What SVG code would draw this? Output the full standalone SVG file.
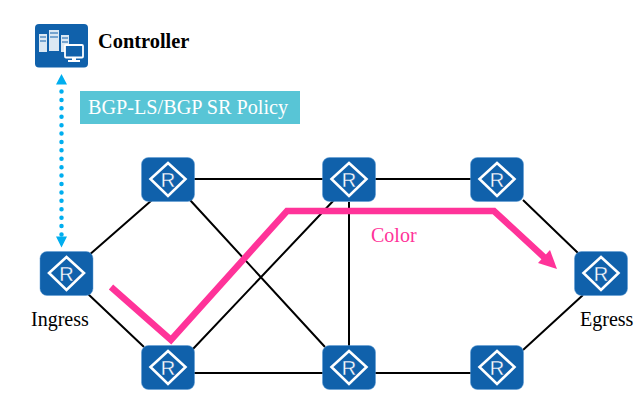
<svg xmlns="http://www.w3.org/2000/svg" width="641" height="400" viewBox="0 0 641 400">
<style>
.bg{fill:#1061ab;stroke:#5b9bd5;stroke-width:.5}
.dm{fill:none;stroke:#fff;stroke-width:2.6}
.r{font:20px "Liberation Sans",Arial,sans-serif;fill:#fff;stroke:#1061ab;stroke-width:.3;text-anchor:middle}
.t{font-family:"Liberation Serif","Times New Roman",serif;fill:#000}
.l{stroke:#000;stroke-width:2;fill:none}
</style>
<defs>
<g id="router">
<rect class="bg" x="-26.500" y="-22" width="53" height="44" rx="7"/>
<path class="dm" d="M0-16.500 17.500-0.500 0 16.500-17.500-0.500Z"/>
<text class="r" x="0" y="7">R</text>
</g>
</defs>
<g id="connectors">
<path class="l" d="M88 256 152 200M87 293 144 347M190 200 325 347M194 179H323M375 179H471M523 200 578 253M192 350 335 199M349 202V346M194 373H323M375 373H471M523 350 583 295"/>
<path d="M61.500 91.500V235" fill="none" stroke="#00aeef" stroke-width="4.500" stroke-linecap="round" stroke-dasharray="0 8.410"/>
<path d="M61.500 74 67 84.500H56ZM61.500 247.500 56 236.500H67Z" fill="#00aeef"/>
<path d="M111 287 171 340 287 211H494L546 259" fill="none" stroke="#ff3399" stroke-width="6.500"/>
<path d="M557 269 538 263 550 250Z" fill="#ff3399"/>
</g>
<g id="controller">
<rect x="35" y="24" width="53" height="43.500" rx="4" fill="#1061ab"/>
<path fill="#dbe8f3" d="M39 34H47V52H39ZM49 30H59V51H49ZM61 35H69V52H61Z"/>
<path fill="none" stroke="#1061ab" d="M40 37H46M40 41H46M50 33H58M50 37H58M62 38H68M62 42H68"/>
<rect x="65" y="45" width="18" height="12.500" rx="1" fill="#1061ab" stroke="#fff" stroke-width="1.800"/>
<path fill="#fff" d="M72 58H76V60H80V62H68V60H72Z"/>
<text class="t" x="98" y="48" font-size="20.400" font-weight="bold">Controller</text>
</g>
<g id="label-policy">
<rect x="80" y="91" width="220" height="33" fill="#58c5d6"/>
<text class="t" x="88" y="114" font-size="20.200" style="fill:#fff">BGP-LS/BGP SR Policy</text>
</g>
<use id="ingress" href="#router" x="66.500" y="273.500"/>
<use id="r1" href="#router" x="168" y="179.500"/>
<use id="r2" href="#router" x="349" y="179.500"/>
<use id="r3" href="#router" x="497" y="179.500"/>
<use id="r4" href="#router" x="168" y="367.500"/>
<use id="r5" href="#router" x="349" y="367.500"/>
<use id="r6" href="#router" x="497" y="367.500"/>
<use id="egress" href="#router" x="601" y="273.500"/>
<text class="t" x="31" y="326" font-size="20">Ingress</text>
<text class="t" x="580" y="326" font-size="20">Egress</text>
<text class="t" x="371" y="242" font-size="20" style="fill:#ff3399">Color</text>
</svg>
